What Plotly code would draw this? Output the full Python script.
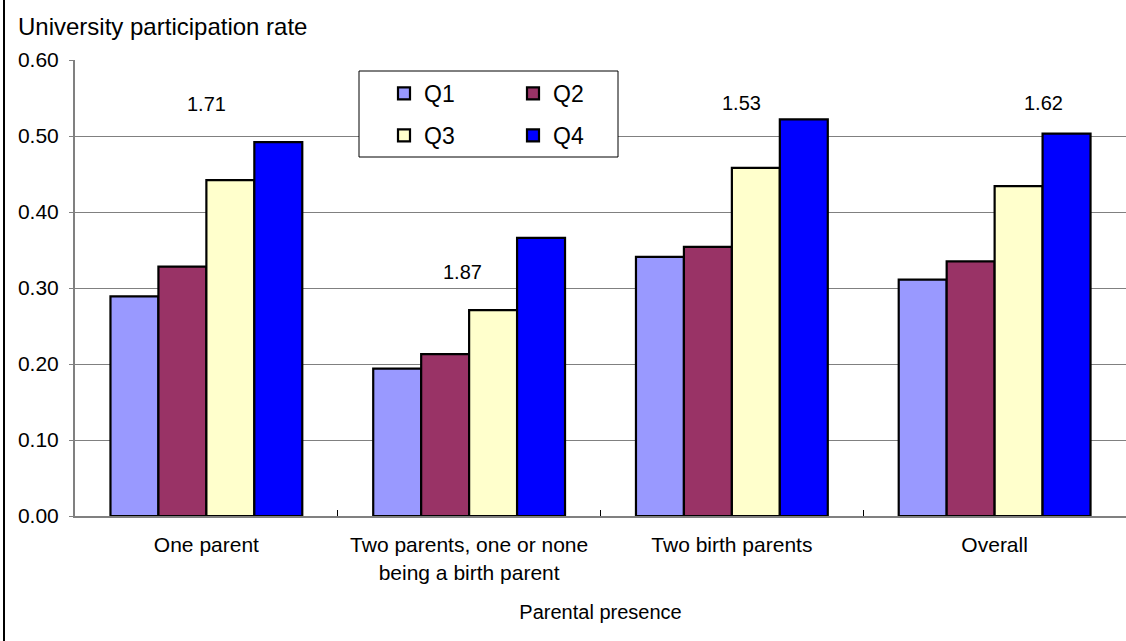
import plotly.graph_objects as go

categories = ["One parent", "Two parents, one or none<br>being a birth parent", "Two birth parents", "Overall"]
series_names = ["Q1", "Q2", "Q3", "Q4"]
q1 = [0.289, 0.194, 0.341, 0.311]
q2 = [0.328, 0.213, 0.354, 0.335]
q3 = [0.442, 0.271, 0.458, 0.434]
q4 = [0.492, 0.366, 0.522, 0.503]
ratio_labels = ["1.71", "1.87", "1.53", "1.62"]
ratio_y = [0.542, 0.321, 0.543, 0.543]
ytick_vals = [0.0, 0.1, 0.2, 0.3, 0.4, 0.5, 0.6]

colors = ["#9999FF", "#993366", "#FFFFCC", "#0000FF"]
values = [q1, q2, q3, q4]
legends = ["legend", "legend", "legend2", "legend2"]

W, H = 1126, 641
L, R, T, B = 75, 0, 60, 125
pw = W - L - R
ph = H - T - B

def px_x(p):
    return (p - L) / pw

def px_y(p):
    return (H - B - p) / ph

FONT = "Liberation Sans, Arial, sans-serif"

fig = go.Figure()
for name, vals, col, lg in zip(series_names, values, colors, legends):
    fig.add_trace(go.Bar(
        x=categories, y=vals, name=name, legend=lg,
        marker=dict(color=col, line=dict(color="black", width=2.2)),
    ))

annotations = []
xshifts = [0, -7, 10, 49]
for cat, lab, yy, xs in zip(categories, ratio_labels, ratio_y, xshifts):
    annotations.append(dict(x=cat, y=yy, text=lab, showarrow=False, xshift=xs,
                            font=dict(size=20, color="black", family=FONT),
                            xanchor="center", yanchor="middle"))

annotations.append(dict(xref="paper", yref="paper", x=px_x(16), y=px_y(26),
                        text="University participation rate", showarrow=False,
                        xanchor="left", yanchor="middle",
                        font=dict(size=24, color="black", family=FONT)))

shapes = [
    dict(type="rect", xref="paper", yref="paper",
         x0=px_x(359), x1=px_x(618), y0=px_y(157), y1=px_y(71),
         line=dict(color="black", width=1), fillcolor="white", layer="above"),
    dict(type="line", xref="paper", yref="paper",
         x0=px_x(4), x1=px_x(4), y0=px_y(H), y1=px_y(0),
         line=dict(color="black", width=2)),
]

fig.update_layout(
    width=W, height=H,
    margin=dict(l=L, r=R, t=T, b=B, pad=0),
    paper_bgcolor="white", plot_bgcolor="white",
    font=dict(family=FONT, color="black", size=20),
    barmode="group", bargap=0.27, bargroupgap=0,
    showlegend=True,
    legend=dict(orientation="h", x=px_x(384), y=px_y(72), xanchor="left", yanchor="top",
                entrywidth=84, bgcolor="rgba(0,0,0,0)", borderwidth=0,
                font=dict(size=23, color="black", family=FONT), traceorder="normal"),
    legend2=dict(orientation="h", x=px_x(384), y=px_y(114), xanchor="left", yanchor="top",
                 entrywidth=84, bgcolor="rgba(0,0,0,0)", borderwidth=0,
                 font=dict(size=23, color="black", family=FONT), traceorder="normal"),
    annotations=annotations,
    shapes=shapes,
    xaxis=dict(
        type="category", showgrid=False,
        showline=True, linecolor="#808080", linewidth=2,
        ticks="inside", tickson="boundaries", ticklen=6, tickcolor="black", tickwidth=1,
        tickfont=dict(size=21, color="black", family=FONT),
        ticklabelstandoff=9,
        title=dict(text="Parental presence", font=dict(size=20, color="black", family=FONT), standoff=22),
    ),
    yaxis=dict(
        range=[0, 0.6], tickvals=ytick_vals, tickformat=".2f",
        showgrid=True, gridcolor="#808080", gridwidth=1,
        showline=True, linecolor="#808080", linewidth=2,
        ticks="outside", ticklen=4, tickcolor="#808080", tickwidth=1,
        tickfont=dict(size=21, color="black", family=FONT),
        ticklabelstandoff=6,
        zeroline=False,
    ),
)

fig.write_html("out.html", config={"displayModeBar": False},
               post_script="document.body.style.margin='0';")
